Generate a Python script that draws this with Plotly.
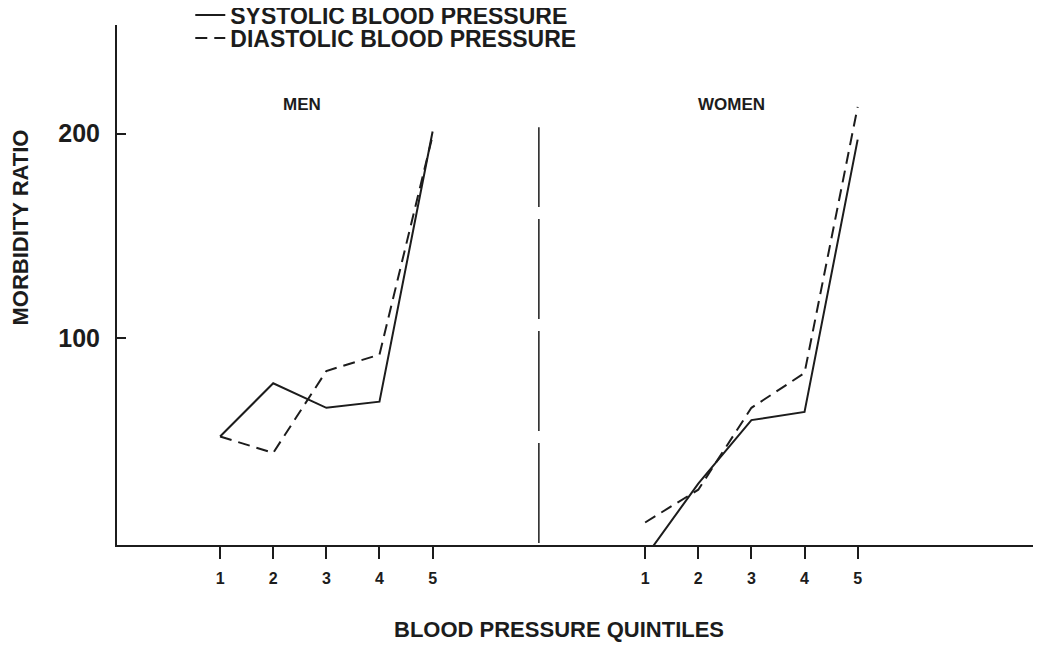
import plotly.graph_objects as go

# quintile positions on one shared axis (men 1-5, women shifted right)
men_x = [1, 2, 3, 4, 5]
women_x = [9, 10, 11, 12, 13]
tick_labels = ["1", "2", "3", "4", "5"]

men_systolic = [52, 78, 66, 69, 201]
men_diastolic = [52, 44, 84, 92, 199]
women_systolic = [-7, 29, 60, 64, 197]
women_diastolic = [10, 26, 66, 83, 213]

divider_x = 7
divider_top = 203

INK = "#1c1c1c"
FONT = "Liberation Sans, Arial, sans-serif"
DIA_DASH = "12px,7px"

fig = go.Figure()

# ── Systolic (solid) ──────────────────────────────────────────────────────
fig.add_trace(go.Scatter(
    x=men_x, y=men_systolic, mode="lines",
    name="<b>SYSTOLIC BLOOD PRESSURE</b>", legend="legend",
    line=dict(color=INK, width=2),
))
fig.add_trace(go.Scatter(
    x=women_x, y=women_systolic, mode="lines",
    name="sys-women", showlegend=False,
    line=dict(color=INK, width=2),
))

# ── Diastolic (dashed) ────────────────────────────────────────────────────
fig.add_trace(go.Scatter(
    x=men_x, y=men_diastolic, mode="lines",
    name="<b>DIASTOLIC BLOOD PRESSURE</b>", legend="legend2",
    line=dict(color=INK, width=2, dash=DIA_DASH),
))
fig.add_trace(go.Scatter(
    x=women_x, y=women_diastolic, mode="lines",
    name="dia-women", showlegend=False,
    line=dict(color=INK, width=2, dash=DIA_DASH),
))

# divider between the two panels
fig.add_shape(
    type="line", xref="x", yref="y",
    x0=divider_x, x1=divider_x, y0=0, y1=divider_top,
    line=dict(color=INK, width=1.5, dash="100px,12px"),
)

# ── Panel labels and axis titles ──────────────────────────────────────────
for txt, xp in [("MEN", 2.55), ("WOMEN", 10.62)]:
    fig.add_annotation(
        x=xp, y=214, xref="x", yref="y", text=f"<b>{txt}</b>",
        showarrow=False, font=dict(size=17, color=INK, family=FONT),
    )

fig.add_annotation(
    x=-0.105, y=154, xref="paper", yref="y", xanchor="center",
    text="<b>MORBIDITY RATIO</b>",
    showarrow=False, textangle=-90,
    font=dict(size=22, color=INK, family=FONT),
)
fig.add_annotation(
    x=0.483, y=-0.163, xref="paper", yref="paper",
    text="<b>BLOOD PRESSURE QUINTILES</b>", yanchor="middle",
    showarrow=False, font=dict(size=22, color=INK, family=FONT),
)

legend_style = dict(
    x=0.080, xanchor="left", yanchor="middle",
    font=dict(size=23, color=INK, family=FONT),
    bgcolor="rgba(0,0,0,0)", itemwidth=30,
)

# the page body has an 8px margin, so the margins are trimmed by 8px
fig.update_layout(
    width=1050, height=647,
    margin=dict(l=109, r=25, t=17, b=110, autoexpand=False),
    plot_bgcolor="white", paper_bgcolor="white",
    font=dict(family=FONT, color=INK),
    showlegend=True,
    legend=dict(y=1.019, **legend_style),
    legend2=dict(y=0.975, **legend_style),
    xaxis=dict(
        range=[-0.94, 16.3],
        showline=True, linecolor=INK, linewidth=2,
        showgrid=False, zeroline=False,
        tickmode="array", tickvals=men_x + women_x,
        ticktext=[f"<b>{t}</b>" for t in tick_labels * 2],
        ticks="outside", ticklen=12, tickwidth=1.5, tickcolor=INK,
        ticklabelstandoff=6,
        tickfont=dict(size=16, color=INK, family=FONT),
    ),
    yaxis=dict(
        range=[-1, 253],
        showline=True, linecolor=INK, linewidth=2,
        showgrid=False, zeroline=False,
        tickmode="array", tickvals=[100, 200],
        ticktext=["<b>100</b>", "<b>200</b>"],
        ticks="inside", ticklen=9, tickwidth=1.5, tickcolor=INK,
        ticklabelstandoff=10,
        tickfont=dict(size=25, color=INK, family=FONT),
    ),
)

fig.write_html("out.html")
